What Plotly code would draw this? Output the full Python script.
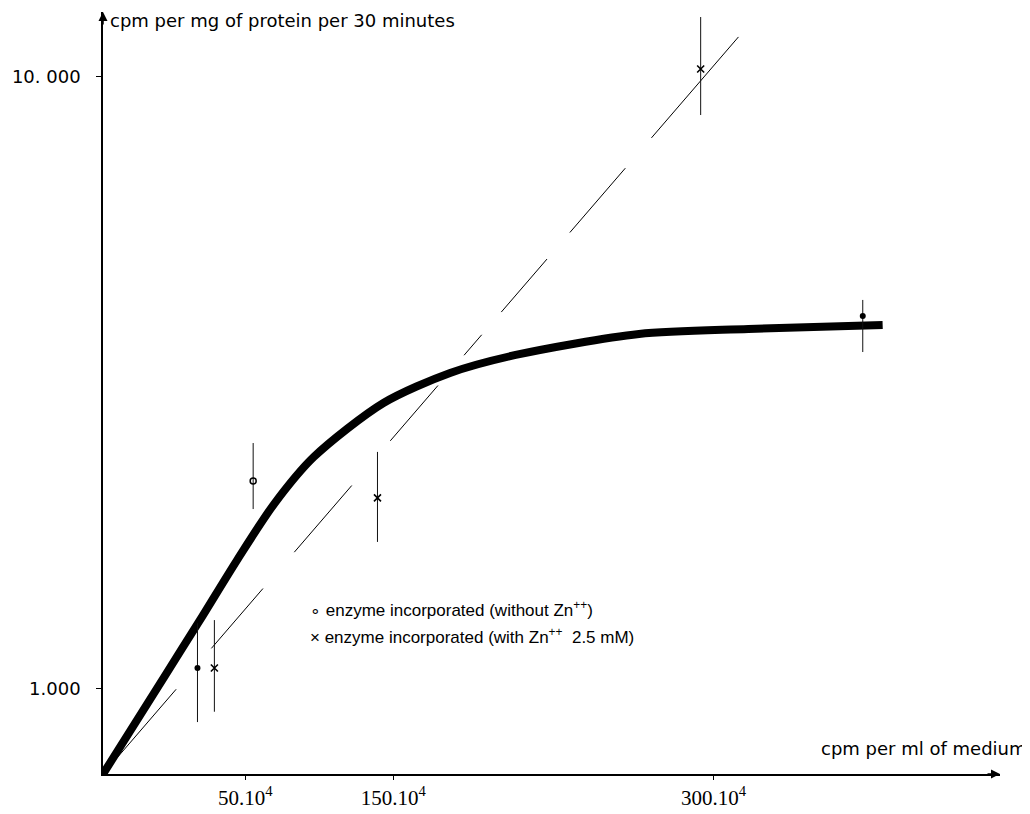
import plotly.graph_objects as go

# ---- data (x in drawn axis units from the origin, y in cpm per mg protein per 30 min) ----
curve_x = [0, 64, 97, 135, 172, 212, 282, 349, 415, 539, 649, 784]
curve_y = [726, 1062, 1292, 1626, 2005, 2394, 2933, 3284, 3514, 3803, 3875, 3934]

zn_line_x = [0, 639]
zn_line_y = [726, 11627]

no_zn_x = [95, 764]
no_zn_y = [1082, 4069]
no_zn_hi = [1281, 4322]
no_zn_lo = [883, 3553]

open_x = [151]
open_y = [2187]
open_hi = [2523]
open_lo = [1968]

zn_x = [112, 276, 601]
zn_y = [1082, 2052, 10306]
zn_hi = [1296, 2440, 12531]
zn_lo = [918, 1739, 8667]

x_tick_vals = [143, 292, 614]
x_tick_text = ["50.10<sup>4</sup>", "150.10<sup>4</sup>", "300.10<sup>4</sup>"]
y_tick_vals = [1000, 10000]
y_tick_text = ["1.000", "10. 000"]

legend_lines = [
    "enzyme incorporated (without Zn<sup>++</sup>)",
    "enzyme incorporated (with Zn<sup>++</sup>  2.5 mM)",
]

# page body has an 8px margin; the figure is sized so the plot area lands where the reference has it
OFF = 8
W, H = 1030 - OFF, 814 - OFF
L, R, T, B = 98 - OFF, 30, 12 - OFF, 40
PW, PH = W - L - R, H - T - B


def px(xp):
    return (xp - OFF - L) / PW


def py(yp):
    return (T + PH - (yp - OFF)) / PH


def err(vals, hi, lo):
    return dict(type="data", symmetric=False,
                array=[h - v for v, h in zip(vals, hi)],
                arrayminus=[v - l for v, l in zip(vals, lo)],
                thickness=1, width=0, color="#111")


fig = go.Figure()

fig.add_trace(go.Scatter(
    x=zn_line_x, y=zn_line_y, mode="lines",
    line=dict(color="black", width=1,
              dash="112px,54px,79px,48px,88px,59px,73px,40px,27px,30px,70px,35px,85px,40px,160px,20px"),
    hoverinfo="skip"))

fig.add_trace(go.Scatter(
    x=curve_x, y=curve_y, mode="lines",
    line=dict(color="black", width=8, shape="spline", smoothing=0.8),
    hoverinfo="skip"))

fig.add_trace(go.Scatter(
    x=no_zn_x, y=no_zn_y, mode="markers",
    marker=dict(symbol="circle", size=6, color="black"),
    error_y=err(no_zn_y, no_zn_hi, no_zn_lo)))

fig.add_trace(go.Scatter(
    x=open_x, y=open_y, mode="markers",
    marker=dict(symbol="circle-open", size=6, color="black", line=dict(width=1.5)),
    error_y=err(open_y, open_hi, open_lo)))

fig.add_trace(go.Scatter(
    x=zn_x, y=zn_y, mode="markers",
    marker=dict(symbol="x-thin", size=7, color="black", line=dict(width=1.6, color="black")),
    error_y=err(zn_y, zn_hi, zn_lo)))

title_font = dict(family="DejaVu Sans", size=18, color="black")
legend_font = dict(family="Liberation Sans", size=17, color="black")

ann = []
# axis titles
ann.append(dict(xref="paper", yref="paper", x=px(103), y=py(20), xanchor="left", yanchor="middle",
                text="cpm per mg of protein per 30 minutes", showarrow=False, font=title_font))
ann.append(dict(xref="paper", yref="paper", x=px(1029), y=py(748), xanchor="right", yanchor="middle",
                text="cpm per ml of medium", showarrow=False, font=title_font))
# legend
ann.append(dict(xref="paper", yref="paper", x=px(304), y=py(609), xanchor="left", yanchor="middle",
                text="\u2218 " + legend_lines[0], showarrow=False, font=legend_font))
ann.append(dict(xref="paper", yref="paper", x=px(304), y=py(636), xanchor="left", yanchor="middle",
                text="\u00d7 " + legend_lines[1], showarrow=False, font=legend_font))
# axis arrowheads
ann.append(dict(xref="paper", yref="paper", x=0, y=1, ax=0, ay=14, text="", showarrow=True,
                arrowhead=2, arrowsize=1.2, arrowwidth=1.5, arrowcolor="black", axref="pixel", ayref="pixel"))
ann.append(dict(xref="paper", yref="paper", x=1, y=0, ax=-14, ay=0, text="", showarrow=True,
                arrowhead=2, arrowsize=1.2, arrowwidth=1.5, arrowcolor="black", axref="pixel", ayref="pixel"))

fig.update_layout(
    width=W, height=H, autosize=False,
    margin=dict(l=L, r=R, t=T, b=B),
    paper_bgcolor="white", plot_bgcolor="white",
    showlegend=False,
    annotations=ann,
    xaxis=dict(range=[0, PW], showgrid=False, zeroline=False, showline=True,
               linecolor="black", linewidth=1.5, ticks="outside", ticklen=4, tickcolor="black",
               tickvals=x_tick_vals, ticktext=x_tick_text, ticklabelstandoff=0,
               tickfont=dict(family="Liberation Serif", size=21, color="black")),
    yaxis=dict(type="log", range=[2.8611, 4.1062], showgrid=False, zeroline=False, showline=True,
               linecolor="black", linewidth=1.5, ticks="outside", ticklen=5, tickcolor="black",
               tickvals=y_tick_vals, ticktext=y_tick_text, ticklabelstandoff=12,
               tickfont=dict(family="DejaVu Sans", size=18, color="black")),
)

fig.write_html("out.html")
